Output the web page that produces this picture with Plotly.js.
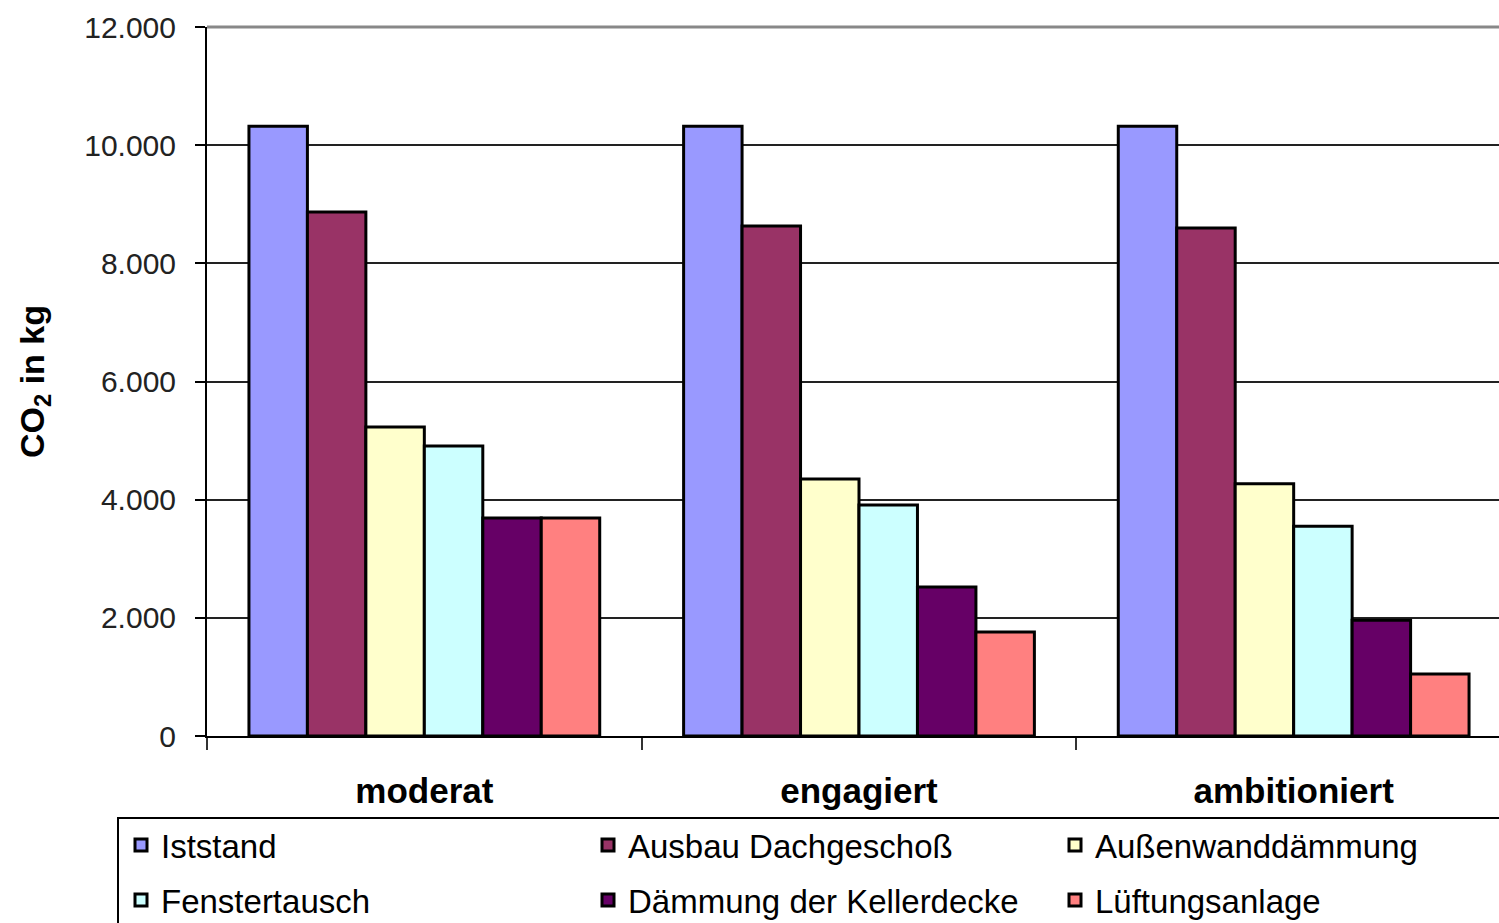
<!DOCTYPE html>
<html>
<head>
<meta charset="utf-8">
<script src="https://cdn.plot.ly/plotly-3.0.1.min.js"></script>
<style>
html, body { margin: 0; padding: 0; overflow: hidden; background: #fff; }
#chart { width: 1600px; height: 1000px; }
</style>
</head>
<body>
<div id="chart"></div>
<script>
// Data
const categories = ["moderat", "engagiert", "ambitioniert"];
const seriesNames = ["Iststand", "Ausbau Dachgeschoß", "Außenwanddämmung",
                     "Fenstertausch", "Dämmung der Kellerdecke", "Lüftungsanlage"];
const iststand = [10320, 10320, 10320];
const ausbauDachgeschoss = [8870, 8630, 8600];
const aussenwanddaemmung = [5230, 4350, 4270];
const fenstertausch = [4910, 3910, 3550];
const daemmungKellerdecke = [3690, 2520, 1960];
const lueftungsanlage = [3690, 1760, 1050];
const yTickValues = [0, 2000, 4000, 6000, 8000, 10000, 12000];

const seriesValues = [iststand, ausbauDachgeschoss, aussenwanddaemmung,
                      fenstertausch, daemmungKellerdecke, lueftungsanlage];
const seriesColors = ["#9999FF", "#993366", "#FFFFCC", "#CCFFFF", "#660066", "#FF8080"];
// first three entries in the first legend row, the rest in the second
const legendRow = ["legend", "legend", "legend", "legend2", "legend2", "legend2"];

const traces = seriesNames.map((name, i) => ({
  type: "bar",
  name: name,
  x: categories,
  y: seriesValues[i],
  legend: legendRow[i],
  marker: { color: seriesColors[i], line: { color: "#000", width: 3 } },
  hoverinfo: "skip"
}));

const W = 1600, H = 1000;
const plotRightPx = 1511;
const ml = 207, mr = W - plotRightPx, mt = 27, mb = 264;
const plotW = W - ml - mr, plotH = H - mt - mb;
const px2x = (px) => (px - ml) / plotW;
const px2y = (py) => 1 - (py - mt) / plotH;

const legendFont = { family: "Liberation Sans, Arial, sans-serif", size: 33, color: "#000" };
function makeLegend(topPx) {
  return {
    orientation: "h",
    x: px2x(121), xanchor: "left",
    y: px2y(topPx), yanchor: "top",
    borderwidth: 0,
    bgcolor: "rgba(0,0,0,0)",
    entrywidth: 422, entrywidthmode: "pixels",
    font: legendFont,
    traceorder: "normal",
    itemclick: false, itemdoubleclick: false
  };
}

const layout = {
  width: W, height: H,
  margin: { l: ml, r: mr, t: mt, b: mb, pad: 0 },
  paper_bgcolor: "#fff",
  plot_bgcolor: "#fff",
  separators: ",.",
  barmode: "group",
  bargap: 0.193,
  bargroupgap: 0,
  font: { family: "Liberation Sans, Arial, sans-serif", color: "#000" },
  xaxis: {
    type: "category",
    showline: true, linecolor: "#000", linewidth: 2,
    ticks: "outside", tickson: "boundaries", ticklen: 12, tickwidth: 2, tickcolor: "#333",
    tickfont: { family: "Liberation Sans, Arial, sans-serif", size: 35, color: "#000", weight: "bold" },
    ticklabelstandoff: 23,
    showgrid: false, zeroline: false, fixedrange: true
  },
  yaxis: {
    range: [0, 12000],
    tickvals: yTickValues,
    tickformat: ",d",
    showline: true, linecolor: "#000", linewidth: 2,
    ticks: "outside", ticklen: 10, tickwidth: 2, tickcolor: "#000",
    tickfont: { family: "Liberation Sans, Arial, sans-serif", size: 30, color: "#222" },
    ticklabelstandoff: 13,
    showgrid: true, gridcolor: "#222", gridwidth: 2,
    zeroline: false, fixedrange: true,
    title: {
      text: "CO<sub>2</sub> in kg",
      font: { family: "Liberation Sans, Arial, sans-serif", size: 34, color: "#000", weight: "bold" },
      standoff: 29
    }
  },
  shapes: [
    {
      type: "line", xref: "paper", yref: "paper", x0: 0, x1: 1, y0: 1, y1: 1,
      line: { color: "#888", width: 3 }, layer: "above"
    },
    {
      type: "rect", xref: "paper", yref: "paper",
      x0: px2x(118), x1: px2x(1590), y0: px2y(818), y1: px2y(990),
      line: { color: "#000", width: 2 }, fillcolor: "rgba(0,0,0,0)", layer: "below"
    }
  ],
  legend: makeLegend(817),
  legend2: makeLegend(872),
  showlegend: true
};

Plotly.newPlot("chart", traces, layout, { displayModeBar: false, staticPlot: true });
</script>
</body>
</html>
